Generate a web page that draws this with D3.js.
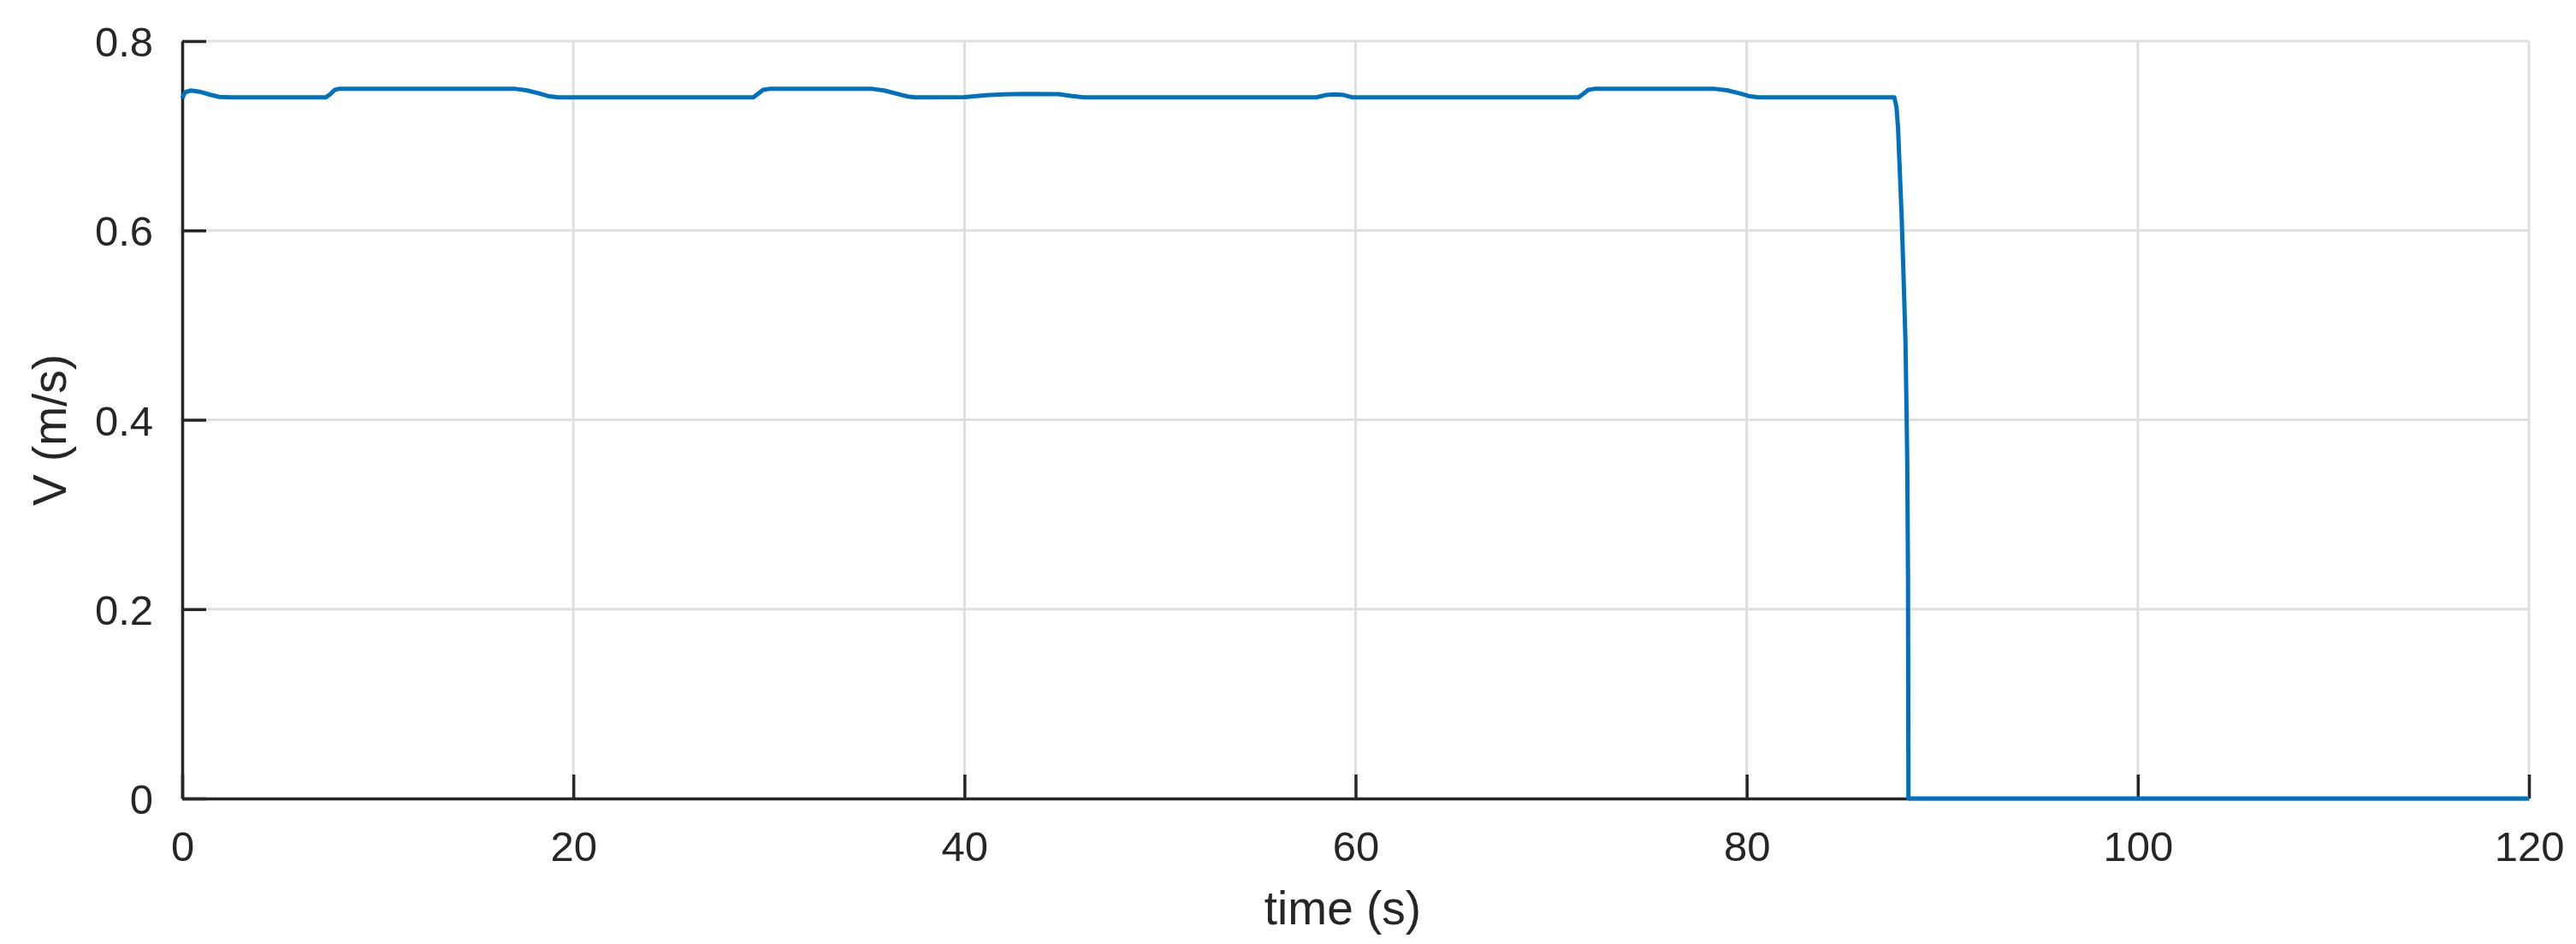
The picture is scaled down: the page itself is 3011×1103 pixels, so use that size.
<!DOCTYPE html>
<html>
<head>
<meta charset="utf-8">
<script src="https://cdn.jsdelivr.net/npm/d3@7"></script>
<style>
  html, body { margin: 0; padding: 0; background: #fff; }
  svg text { font-family: "Liberation Sans", Arial, Helvetica, sans-serif; fill: #262626; }
</style>
</head>
<body>
<div id="chart"></div>
<script>
// speed trace (time in s, speed in m/s)
const timeS = [
  0, 0.15, 0.45, 0.9, 1.4, 1.9, 2.5,
  7.35, 7.6, 7.8, 8.0,
  17.05, 17.6, 18.2, 18.7, 19.2,
  29.2, 29.45, 29.7, 30.0,
  35.3, 35.9, 36.6, 37.1, 37.5,
  40.0, 41.1, 42.0, 43.0, 44.8, 45.5, 46.1,
  58.0, 58.5, 58.95, 59.4, 59.8,
  71.4, 71.65, 71.9, 72.2,
  78.4, 79.0, 79.6, 80.1, 80.6,
  87.55, 87.66, 87.74, 87.83, 87.92, 88.03, 88.12, 88.18, 88.21, 88.25, 88.27,
  120
];
const speed = [
  0.7395, 0.746, 0.7478, 0.7465, 0.7435, 0.741, 0.7406,
  0.7406, 0.7445, 0.7485, 0.7495,
  0.7495, 0.748, 0.745, 0.742, 0.7406,
  0.7406, 0.7445, 0.7485, 0.7495,
  0.7495, 0.7478, 0.744, 0.7415, 0.7406,
  0.7408, 0.7428, 0.7438, 0.7442, 0.7440, 0.742, 0.7406,
  0.7406, 0.743, 0.7438, 0.743, 0.7406,
  0.7406, 0.7445, 0.7485, 0.7495,
  0.7495, 0.748, 0.745, 0.742, 0.7406,
  0.7406, 0.73, 0.708, 0.662, 0.617, 0.545, 0.482, 0.40, 0.355, 0.229, 0,
  0
];
const xTicks = [0, 20, 40, 60, 80, 100, 120];
const yTicks = [0, 0.2, 0.4, 0.6, 0.8];
const xLabel = "time (s)";
const yLabel = "V (m/s)";

const width = 3011, height = 1103;
const plotLeft = 213, plotRight = 2956, plotTop = 48, plotBottom = 933;
const tickLen = 28;

const svg = d3.select("#chart").append("svg")
    .attr("width", width)
    .attr("height", height);

const x = d3.scaleLinear().domain([0, 120]).range([plotLeft, plotRight]);
const y = d3.scaleLinear().domain([0, 0.8]).range([plotBottom, plotTop]);

// grid
const grid = svg.append("g").attr("class", "grid");
grid.selectAll("line.gx").data(xTicks).enter().append("line")
    .attr("class", "gx")
    .attr("x1", d => x(d)).attr("x2", d => x(d))
    .attr("y1", plotTop).attr("y2", plotBottom)
    .attr("stroke", "#dfdfdf").attr("stroke-width", 3);
grid.selectAll("line.gy").data(yTicks).enter().append("line")
    .attr("class", "gy")
    .attr("x1", plotLeft).attr("x2", plotRight)
    .attr("y1", d => y(d)).attr("y2", d => y(d))
    .attr("stroke", "#dfdfdf").attr("stroke-width", 3);

// axes, ticks pointing inward
const xAxis = d3.axisBottom(x).tickValues(xTicks)
    .tickSizeInner(-tickLen).tickSizeOuter(0).tickPadding(38)
    .tickFormat(d3.format("d"));
const yAxis = d3.axisLeft(y).tickValues(yTicks)
    .tickSizeInner(-tickLen).tickSizeOuter(0).tickPadding(34)
    .tickFormat(d => d === 0 ? "0" : d3.format(".1f")(d));

const gx = svg.append("g")
    .attr("transform", "translate(0," + plotBottom + ")")
    .call(xAxis);
const gy = svg.append("g")
    .attr("transform", "translate(" + plotLeft + ",0)")
    .call(yAxis);

[gx, gy].forEach(g => {
    g.select(".domain").attr("stroke", "#262626").attr("stroke-width", 3.5);
    g.selectAll(".tick line").attr("stroke", "#262626").attr("stroke-width", 3.5);
    g.selectAll(".tick text")
        .attr("font-size", 49)
        .attr("font-family", "Liberation Sans, Arial, sans-serif")
        .style("fill", "#262626");
});
gy.selectAll(".tick text").attr("dy", "0.36em");

// axis labels
svg.append("text")
    .attr("x", (plotLeft + plotRight) / 2 - 15)
    .attr("y", 1080)
    .attr("text-anchor", "middle")
    .attr("font-size", 55)
    .text(xLabel);

svg.append("text")
    .attr("transform", "translate(77," + ((plotTop + plotBottom) / 2 + 12) + ") rotate(-90)")
    .attr("text-anchor", "middle")
    .attr("font-size", 55)
    .text(yLabel);

// data line
const points = timeS.map((t, i) => [t, speed[i]]);
svg.append("path")
    .datum(points)
    .attr("fill", "none")
    .attr("stroke", "#0072BD")
    .attr("stroke-width", 5)
    .attr("stroke-linejoin", "round")
    .attr("d", d3.line().x(d => x(d[0])).y(d => y(d[1])));
</script>
</body>
</html>
